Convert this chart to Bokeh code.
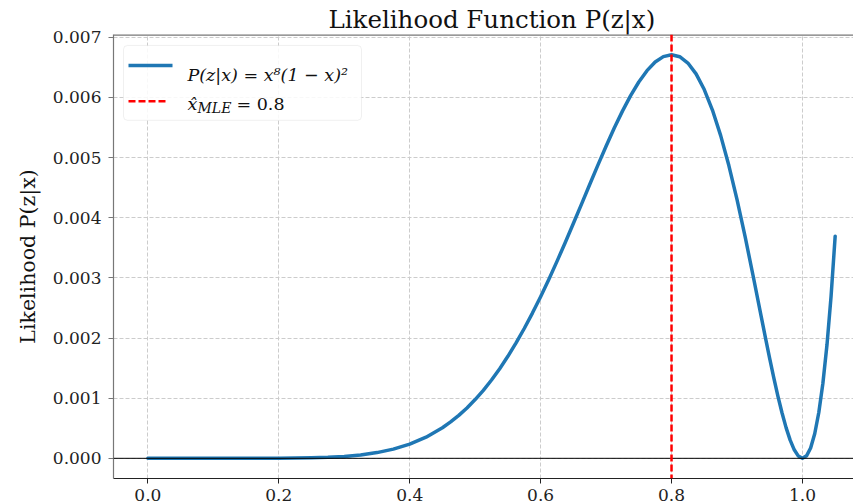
from bokeh.plotting import figure
from bokeh.models import (Range1d, FixedTicker, NumeralTickFormatter, Span, Label,
                          BoxAnnotation)
from bokeh.embed import file_html
from bokeh.resources import INLINE

# ---- data ----
x_vals = [0.0, 0.05, 0.1, 0.15, 0.2, 0.25, 0.275, 0.3, 0.325, 0.35, 0.375, 0.4,
          0.425, 0.45, 0.4625, 0.475, 0.4875, 0.5, 0.5125, 0.525, 0.5375, 0.55,
          0.5625, 0.575, 0.5875, 0.6, 0.6125, 0.625, 0.6375, 0.65, 0.6625, 0.675,
          0.6875, 0.7, 0.7125, 0.725, 0.7375, 0.75, 0.7625, 0.775, 0.7875, 0.8,
          0.8125, 0.825, 0.8375, 0.85, 0.8625, 0.875, 0.8875, 0.9, 0.9125, 0.925,
          0.9375, 0.94375, 0.95, 0.95625, 0.9625, 0.96875, 0.975, 0.98125, 0.9875,
          0.99375, 1.0, 1.00625, 1.0125, 1.01875, 1.025, 1.03125, 1.0375, 1.04375,
          1.05]
likelihood_vals = [0.0, 0.0, 0.0, 1.9e-7, 1.6e-6, 8.6e-6, 1.72e-5, 3.22e-5, 5.67e-5,
                   9.51e-5, 1.528e-4, 2.359e-4, 3.519e-4, 5.086e-4, 6.049e-4,
                   7.143e-4, 8.379e-4, 9.766e-4, 1.1310e-3, 1.3022e-3, 1.4902e-3,
                   1.6956e-3, 1.9184e-3, 2.1583e-3, 2.4150e-3, 2.6874e-3, 2.9744e-3,
                   3.2742e-3, 3.5847e-3, 3.9033e-3, 4.2270e-3, 4.5519e-3, 4.8739e-3,
                   5.1883e-3, 5.4906e-3, 5.7726e-3, 6.0306e-3, 6.2571e-3, 6.4453e-3,
                   6.5884e-3, 6.6792e-3, 6.7109e-3, 6.6772e-3, 6.5721e-3, 6.3913e-3,
                   6.1310e-3, 5.7900e-3, 5.3689e-3, 4.8713e-3, 4.3047e-3, 3.6802e-3,
                   3.0148e-3, 2.3309e-3, 1.9911e-3, 1.6586e-3, 1.3382e-3, 1.0358e-3,
                   7.575e-4, 5.104e-4, 3.022e-4, 1.413e-4, 3.715e-5, 0.0, 4.106e-5,
                   1.726e-4, 4.079e-4, 7.615e-4, 1.2491e-3, 1.8878e-3, 2.6961e-3,
                   3.6936e-3]
x_mle = 0.8
x_ticks = [0.0, 0.2, 0.4, 0.6, 0.8, 1.0]
y_ticks = [0.000, 0.001, 0.002, 0.003, 0.004, 0.005, 0.006, 0.007]

title_text = "Likelihood Function P(z|x)"
ylabel_text = "Likelihood P(z|x)"
legend_curve = "P(z|x) = x⁸(1 − x)²"
legend_mle_x = "x̂"
legend_mle_sub = "MLE"
legend_mle_val = "= 0.8"

# ---- layout ----
W, H = 853, 503
FL, FR, FT, FB = 113, 853, 34, 479
X0, X1 = -0.0525, 1.078
Y0, Y1 = -0.0003355, 0.0070465

SERIF = "DejaVu Serif"
BLUE = "#1f77b4"


def px2x(px):
    return X0 + (px - FL) / (FR - FL) * (X1 - X0)


def py2y(py):
    return Y1 - (py - FT) / (FB - FT) * (Y1 - Y0)


p = figure(width=W, height=H, x_range=Range1d(X0, X1), y_range=Range1d(Y0, Y1),
           output_backend="svg", toolbar_location=None, title=title_text,
           min_border_left=FL, min_border_right=0, min_border_top=FT,
           min_border_bottom=H - FB)
p.outline_line_color = None
p.background_fill_color = "white"
p.border_fill_color = "white"

# title
p.title.align = "left"
p.title.offset = 328 - FL
p.title.text_font = SERIF
p.title.text_font_size = "24.5px"
p.title.text_font_style = "normal"
p.title.text_color = "#111111"
p.title.standoff = 1

# axes
for ax, ticks, fmt, col, so in ((p.xaxis[0], x_ticks, "0.0", "#222222", 5),
                                (p.yaxis[0], y_ticks, "0.000", "#777777", 7)):
    ax.ticker = FixedTicker(ticks=ticks)
    ax.formatter = NumeralTickFormatter(format=fmt)
    ax.major_label_text_font = SERIF
    ax.major_label_text_font_size = "17px"
    ax.major_label_text_color = "#222222"
    ax.major_tick_out = 5
    ax.major_tick_in = 0
    ax.minor_tick_line_color = None
    ax.axis_line_color = col
    ax.axis_line_width = 1.2
    ax.major_tick_line_color = col
    ax.major_label_standoff = so

p.yaxis.axis_label = ylabel_text
p.yaxis.axis_label_text_font = SERIF
p.yaxis.axis_label_text_font_size = "20.5px"
p.yaxis.axis_label_text_font_style = "normal"
p.yaxis.axis_label_text_color = "#111111"
p.yaxis.axis_label_standoff = 10

# top spine
p.add_layout(Span(location=Y1, dimension="width", line_color="#777777",
                  line_width=2.4))

# grid
p.xgrid.ticker = FixedTicker(ticks=x_ticks)
p.ygrid.ticker = FixedTicker(ticks=y_ticks)
for g in (p.xgrid[0], p.ygrid[0]):
    g.grid_line_color = "#cccccc"
    g.grid_line_dash = "4 2"
    g.grid_line_width = 1

# zero line
p.add_layout(Span(location=0, dimension="width", line_color="black", line_width=1))

# curve
p.line(x_vals, likelihood_vals, line_color=BLUE, line_width=3.5, line_join="round",
       line_cap="round")

# MLE line
p.add_layout(Span(location=x_mle, dimension="height", line_color="red",
                  line_width=2.5, line_dash="7 3"))

# legend
p.add_layout(BoxAnnotation(left=px2x(123), right=px2x(361), top=py2y(45),
                           bottom=py2y(120), fill_color="white", fill_alpha=0.85,
                           line_color="#cccccc", line_width=1, border_radius=4))
p.line([px2x(128), px2x(172)], [py2y(65), py2y(65)], line_color=BLUE,
       line_width=3.5, level="overlay")
p.line([px2x(128), px2x(168)], [py2y(101), py2y(101)], line_color="red",
       line_width=2.5, line_dash="7 3", level="overlay")
p.add_layout(Label(x=px2x(187), y=py2y(75), text=legend_curve, text_font=SERIF,
                   text_font_style="italic", text_font_size="17.5px",
                   text_color="#111111", text_baseline="alphabetic"))
p.add_layout(Label(x=px2x(187), y=py2y(104), text=legend_mle_x, text_font=SERIF,
                   text_font_style="italic", text_font_size="17.5px",
                   text_color="#111111", text_baseline="alphabetic"))
p.add_layout(Label(x=px2x(197), y=py2y(108), text=legend_mle_sub, text_font=SERIF,
                   text_font_style="italic", text_font_size="14px",
                   text_color="#111111", text_baseline="alphabetic"))
p.add_layout(Label(x=px2x(236), y=py2y(104), text=legend_mle_val, text_font=SERIF,
                   text_font_size="17.5px", text_color="#111111",
                   text_baseline="alphabetic"))

open("out.html", "w").write(file_html(p, INLINE))
